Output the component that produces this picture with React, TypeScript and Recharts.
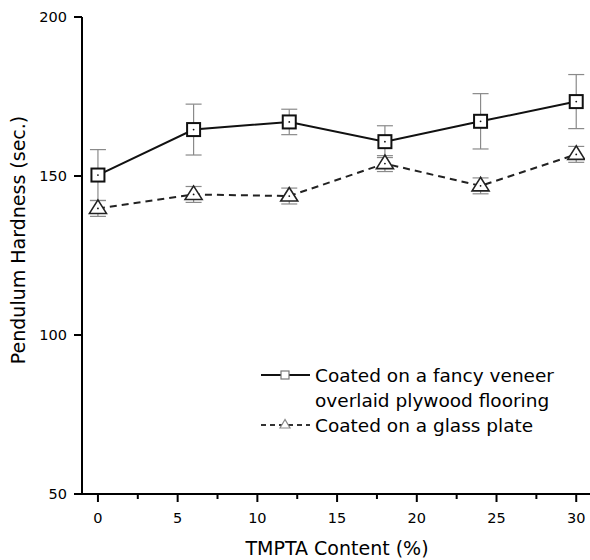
import React from "react";
import { LineChart, Line, XAxis, YAxis, ErrorBar } from "recharts";

// TMPTA content (%) and pendulum hardness (sec.)
const content = [0, 6, 12, 18, 24, 30];
const veneer = [150.3, 164.6, 167.0, 160.8, 167.2, 173.4];
const veneerErr = [8, 8, 4, 5, 8.7, 8.5];
const glass = [139.8, 144.2, 143.7, 153.9, 146.9, 156.8];
const glassErr = [2.5, 2.5, 2.5, 2.5, 2.5, 2.5];
const xTicks = [0, 2.5, 5, 7.5, 10, 12.5, 15, 17.5, 20, 22.5, 25, 27.5, 30];
const yTicks = [50, 100, 150, 200];
const seriesNames = ["Coated on a fancy veneer", "overlaid plywood flooring", "Coated on a glass plate"];

const data = content.map((c, i) => ({
  x: c,
  veneer: veneer[i],
  veneerErr: veneerErr[i],
  glass: glass[i],
  glassErr: glassErr[i],
}));

const FONT = '"DejaVu Sans", sans-serif';

const SquareDot = (p: any) => {
  const { cx, cy, index } = p;
  if (cx == null || cy == null) return <g key={`s${index}`} />;
  return (
    <g key={`s${index}`}>
      <rect x={cx - 6.5} y={cy - 6.5} width={13} height={13} fill="#fff" stroke="#111" strokeWidth={2} />
      <circle cx={cx} cy={cy} r={0.9} fill="#111" />
    </g>
  );
};

const TriangleDot = (p: any) => {
  const { cx, cy, index } = p;
  if (cx == null || cy == null) return <g key={`t${index}`} />;
  return (
    <g key={`t${index}`}>
      <polygon
        points={`${cx},${cy - 8.5} ${cx - 8.5},${cy + 5} ${cx + 8.5},${cy + 5}`}
        fill="#fff" stroke="#222" strokeWidth={1.6}
      />
      <circle cx={cx} cy={cy} r={0.9} fill="#111" />
    </g>
  );
};

const XTick = (p: any) => {
  const { x, y, payload } = p;
  const major = payload.value % 5 === 0;
  return (
    <g>
      <line x1={x} x2={x} y1={y} y2={y + (major ? 8 : 5)} stroke="#000" strokeWidth={2} />
      {major && (
        <text x={x} y={y + 29} textAnchor="middle" fontSize={14.5} fontFamily={FONT} fill="#000">
          {payload.value}
        </text>
      )}
    </g>
  );
};

const LegendBox = () => (
  <svg width={330} height={90} style={{ position: "absolute", left: 250, top: 355 }}>
    <line x1={11} x2={60} y1={20} y2={20} stroke="#111" strokeWidth={2} />
    <rect x={31} y={16} width={8} height={8} fill="#fff" stroke="#777" strokeWidth={1.2} />
    <line x1={11} x2={60} y1={70} y2={70} stroke="#333" strokeWidth={1.8} strokeDasharray="5 4" />
    <polygon points="35,64.5 30,73 40,73" fill="#fff" stroke="#888" strokeWidth={1.2} />
    <text x={65} y={27} fontSize={18.5} fontFamily={FONT} fill="#000">{seriesNames[0]}</text>
    <text x={65} y={52} fontSize={18.5} fontFamily={FONT} fill="#000">{seriesNames[1]}</text>
    <text x={65} y={77} fontSize={18.5} fontFamily={FONT} fill="#000">{seriesNames[2]}</text>
  </svg>
);

export default function App() {
  return (
    <div style={{ position: "absolute", left: 0, top: 0, width: 590, height: 560, overflow: "hidden", background: "#fff" }}>
      <LineChart width={640} height={560} data={data} margin={{ top: 17, right: 0, bottom: 0, left: 0 }}>
        <XAxis
          dataKey="x"
          type="number"
          domain={[-1, 34]}
          ticks={xTicks}
          interval={0}
          height={66}
          axisLine={{ stroke: "#000", strokeWidth: 2 }}
          tickLine={false}
          tickSize={0}
          tickMargin={0}
          tick={<XTick />}
          label={{
            content: () => (
              <text x={337} y={555} textAnchor="middle" fontSize={19} fontFamily={FONT} fill="#000">
                TMPTA Content (%)
              </text>
            ),
          }}
        />
        <XAxis
          xAxisId="top"
          orientation="top"
          dataKey="x"
          type="number"
          domain={[-1, 34]}
          height={0}
          tick={false}
          tickLine={false}
          axisLine={{ stroke: "#000", strokeWidth: 2 }}
        />
        <YAxis
          type="number"
          domain={[50, 200]}
          ticks={yTicks}
          interval={0}
          width={82}
          axisLine={{ stroke: "#000", strokeWidth: 2 }}
          tickLine={{ stroke: "#000", strokeWidth: 2 }}
          tickSize={8}
          tickMargin={7}
          tick={{ fill: "#000", fontSize: 14.5, fontFamily: FONT }}
          label={{
            content: () => (
              <text
                x={25} y={240} textAnchor="middle" fontSize={19} fontFamily={FONT} fill="#000"
                transform="rotate(-90 25 240)"
              >
                Pendulum Hardness (sec.)
              </text>
            ),
          }}
        />
        <Line
          dataKey="veneer"
          stroke="#111"
          strokeWidth={2}
          dot={SquareDot}
          activeDot={false}
          isAnimationActive={false}
        >
          <ErrorBar dataKey="veneerErr" direction="y" width={8} stroke="#8a8a8a" strokeWidth={1.2} />
        </Line>
        <Line
          dataKey="glass"
          stroke="#222"
          strokeWidth={2}
          strokeDasharray="7 5"
          dot={TriangleDot}
          activeDot={false}
          isAnimationActive={false}
        >
          <ErrorBar dataKey="glassErr" direction="y" width={8} stroke="#8a8a8a" strokeWidth={1.2} />
        </Line>
      </LineChart>
      <LegendBox />
      {/* the reference shows no right spine; mask the stray edge line */}
      <div style={{ position: "absolute", left: 585, top: 19, width: 5, height: 473, background: "#fff" }} />
    </div>
  );
}
